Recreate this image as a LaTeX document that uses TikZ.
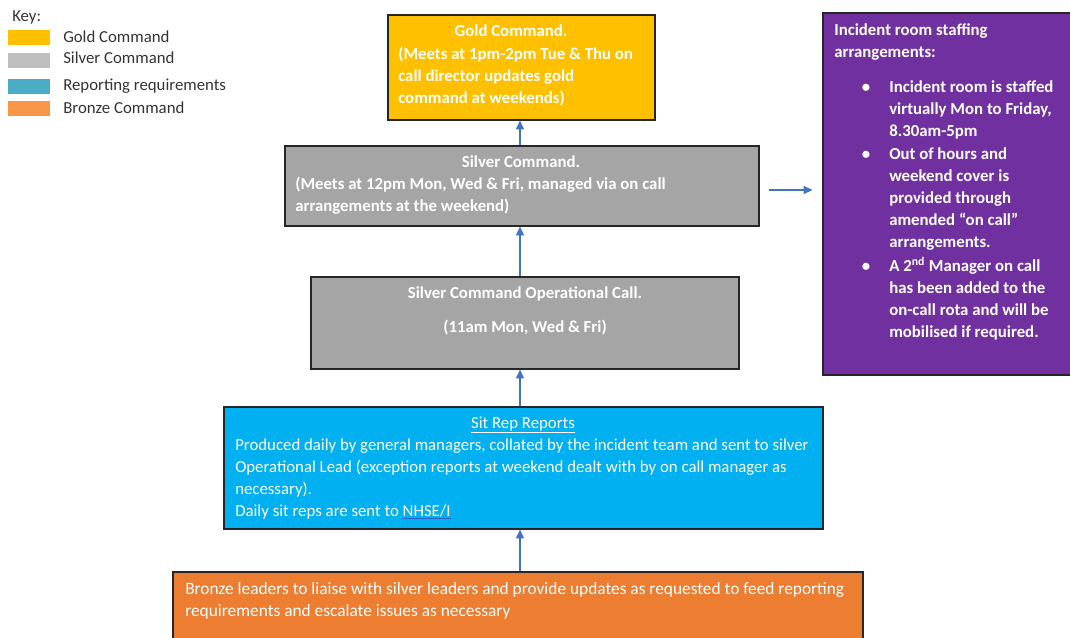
\documentclass[tikz,border=0pt]{standalone}
\usepackage{fontspec}
\setmainfont{Carlito}
\usetikzlibrary{arrows.meta,fit}

\definecolor{goldc}{HTML}{FFC000}
\definecolor{silverc}{HTML}{A5A5A5}
\definecolor{keysilver}{HTML}{BFBFBF}
\definecolor{repc}{HTML}{00B0F0}
\definecolor{keyrep}{HTML}{4BACC6}
\definecolor{bronzec}{HTML}{ED7D31}
\definecolor{keybronze}{HTML}{F79646}
\definecolor{staffc}{HTML}{7030A0}
\definecolor{flowc}{HTML}{4472C4}
\definecolor{linkc}{HTML}{2F5FD0}

\newcommand{\linkline}[1]{{\color{linkc}$\underline{\hbox{\color{white}#1}}$}}

\begin{document}
\begin{tikzpicture}[x=0.75pt,y=-0.75pt,
    box/.style={draw=black!85,line width=0.9pt,inner sep=0pt},
    swatch/.style={inner sep=0pt},
    txt/.style={inner sep=0pt,align=left,text=white,font=\fontsize{12.6}{16.5}\selectfont},
    wtxt/.style={txt,font=\fontsize{13}{16.5}\selectfont},
    btxt/.style={txt,font=\fontsize{12.6}{16.5}\selectfont\bfseries},
    keytxt/.style={inner sep=0pt,anchor=base west,text=black!80,font=\fontsize{12.6}{16.5}\selectfont},
    flow/.style={draw=flowc,line width=0.8pt,-{Triangle[length=6.5pt,width=6pt]}}]
  \useasboundingbox (0,0) rectangle (1070,637);

  % key
  \node[keytxt] (keyhead) at (12,21) {Key:};
  \node[swatch,fill=goldc,fit={(8,30)(50,45)}] (kgold) {};
  \node[swatch,fill=keysilver,fit={(8,53)(50,68)}] (ksilver) {};
  \node[swatch,fill=keyrep,fit={(8,79)(50,94)}] (krep) {};
  \node[swatch,fill=keybronze,fit={(8,101)(50,116)}] (kbronze) {};
  \node[keytxt] (kgoldtxt) at (63,42) {Gold Command};
  \node[keytxt] (ksilvertxt) at (63,63) {Silver Command};
  \node[keytxt] (kreptxt) at (63,90) {Reporting requirements};
  \node[keytxt] (kbronzetxt) at (63,113) {Bronze Command};

  % boxes
  \node[box,fill=goldc,fit={(388,15)(655,120)}] (gold) {};
  \node[box,fill=silverc,fit={(285,146)(759,226)}] (silver) {};
  \node[box,fill=silverc,fit={(311,277)(739,369)}] (opcall) {};
  \node[box,fill=repc,fit={(224,407)(823,529)}] (sitrep) {};
  \node[box,fill=bronzec,fit={(173,572)(863,650)}] (bronze) {};
  \node[box,fill=staffc,fit={(823,13)(1072,375)}] (staff) {};

  % gold (base = last line)
  \node[btxt,anchor=base] (goldhead) at (511,36) {Gold Command.};
  \node[btxt,anchor=base west] (goldbody) at (398,103)
    {(Meets at 1pm-2pm Tue \& Thu on\\call director updates gold\\command at weekends)};

  % silver
  \node[btxt,anchor=base] (silverhead) at (521,167) {Silver Command.};
  \node[btxt,anchor=base west] (silverbody) at (295,211)
    {(Meets at 12pm Mon, Wed \& Fri, managed via on call\\arrangements at the weekend)};

  % operational call
  \node[btxt,anchor=base] (ophead) at (525,298) {Silver Command Operational Call.};
  \node[btxt,anchor=base] (opbody) at (525,332) {(11am Mon, Wed \& Fri)};

  % sit reps
  \node[txt,anchor=base] (rephead) at (523,428) {\underline{Sit Rep Reports}};
  \node[txt,anchor=base west] (repbody) at (235,516)
    {Produced daily by general managers, collated by the incident team and sent to silver\\
     Operational Lead (exception reports at weekend dealt with by on call manager as\\
     necessary).\\
     Daily sit reps are sent to \linkline{NHSE/I}};

  % bronze
  \node[wtxt,anchor=base west] (bronzebody) at (185,594)
    {Bronze leaders to liaise with silver leaders and provide updates as requested to feed reporting};
  \node[wtxt,anchor=base west] (bronzebody2) at (185,616)
    {requirements and escalate issues as necessary};

  % staffing
  \node[btxt,anchor=base west] (staffhead) at (834,57) {Incident room staffing\\arrangements:};
  \node[btxt,anchor=base] (dot1) at (866,92) {•};
  \node[btxt,anchor=base west] (item1) at (889,136)
    {Incident room is staffed\\virtually Mon to Friday,\\8.30am-5pm};
  \node[btxt,anchor=base] (dot2) at (866,159) {•};
  \node[btxt,anchor=base west] (item2) at (889,247)
    {Out of hours and\\weekend cover is\\provided through\\amended “on call”\\arrangements.};
  \node[btxt,anchor=base] (dot3) at (866,271) {•};
  \node[btxt,anchor=base west] (item3) at (889,337)
    {A 2\textsuperscript{nd} Manager on call\\has been added to the\\on-call rota and will be\\mobilised if required.};

  % arrows
  \coordinate (spine) at (520,0);
  \draw[flow] (silver.north -| spine) -- (gold.south -| spine);
  \draw[flow] (opcall.north -| spine) -- (silver.south -| spine);
  \draw[flow] (sitrep.north -| spine) -- (opcall.south -| spine);
  \draw[flow] (bronze.north -| spine) -- (sitrep.south -| spine);
  \draw[flow,shorten <=6.75pt,shorten >=7.5pt] ([yshift=-3pt]silver.east) -- ([yshift=-3pt]silver.east -| staff.west);
\end{tikzpicture}
\end{document}
